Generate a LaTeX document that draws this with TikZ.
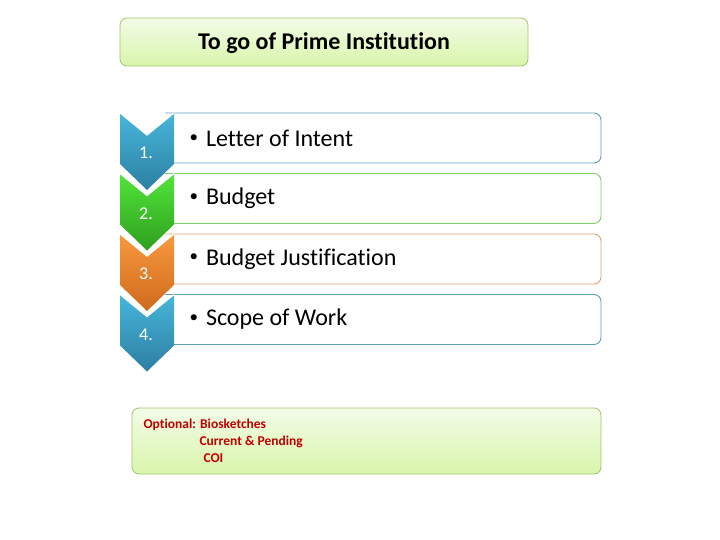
\documentclass[tikz,border=0pt]{standalone}
\usepackage{fontspec}
\setmainfont{Carlito}[Ligatures=CommonOff]
\begin{document}
\begin{tikzpicture}[x=1pt,y=-1pt,
  greenbox/.style={draw=boxborder, line width=0.8pt, rounded corners=7pt, top color=boxtop, bottom color=boxbot},
  itemtext/.style={anchor=west, font=\fontsize{24}{28}\selectfont, text=black},
  numtext/.style={font=\fontsize{18}{21}\selectfont, text=white},
  opttext/.style={anchor=west, font=\bfseries\fontsize{13.5}{16}\selectfont, text=optred},
]
\definecolor{boxborder}{HTML}{A3C46E}
\definecolor{boxtop}{HTML}{F3FCE8}
\definecolor{boxbot}{HTML}{D8F5AA}
\definecolor{bluetop}{HTML}{47B6DA}
\definecolor{bluebot}{HTML}{2C7FA2}
\definecolor{greentop}{HTML}{52E53A}
\definecolor{greenbot}{HTML}{2E9E1E}
\definecolor{orangetop}{HTML}{F8993F}
\definecolor{orangebot}{HTML}{CF6A1C}
\definecolor{blueline}{HTML}{5B9FB4}
\definecolor{greenline}{HTML}{7DCF6A}
\definecolor{orangeline}{HTML}{D9A36E}
\definecolor{optred}{HTML}{C00000}
\newcommand{\smbul}{\raisebox{3.5pt}{\fontsize{17}{17}\selectfont\textbullet}\hspace{8pt}}
\useasboundingbox (0,0) rectangle (720,540);

% title box
\path[greenbox] (120,18) rectangle (528,66);
\node[font=\bfseries\fontsize{24}{28}\selectfont] (title) at (324,43) {To go of Prime Institution};

% item rectangles
\foreach \t/\c in {113/blueline, 173.5/greenline, 234/orangeline, 294.5/blueline}{
  \draw[\c, line width=0.9pt, fill=white] (165,\t) [rounded corners=7pt]-- (601,\t) -- (601,\t+50) [sharp corners]-- (165,\t+50);
}

% chevrons
\foreach \t/\ct/\cb in {113/bluetop/bluebot, 173.5/greentop/greenbot, 234/orangetop/orangebot, 294.5/bluetop/bluebot}{
  \shade[top color=\ct, bottom color=\cb] (120,\t) -- (147,\t+22) -- (174,\t) -- (174,\t+51) -- (147,\t+77) -- (120,\t+51) -- cycle;
  \draw[white, line width=1.2pt] (120,\t) -- (147,\t+22) -- (174,\t);
}

\node[numtext] (n1) at (146,153) {1.};
\node[numtext] (n2) at (146,213.5) {2.};
\node[numtext] (n3) at (146,274) {3.};
\node[numtext] (n4) at (146,334.5) {4.};

\node[itemtext] (t1) at (186,138) {\smbul Letter of Intent};
\node[itemtext] (t2) at (186,198.5) {\smbul Budget};
\node[itemtext] (t3) at (186,259) {\smbul Budget Justification};
\node[itemtext] (t4) at (186,319.5) {\smbul Scope of Work};

% optional box
\path[greenbox] (132,408) rectangle (601,474);
\node[opttext] (o1) at (140,424.5) {Optional: Biosketches};
\node[opttext] (o2) at (196,441.5) {Current \& Pending};
\node[opttext] (o3) at (200,458.5) {COI};
\end{tikzpicture}
\end{document}
